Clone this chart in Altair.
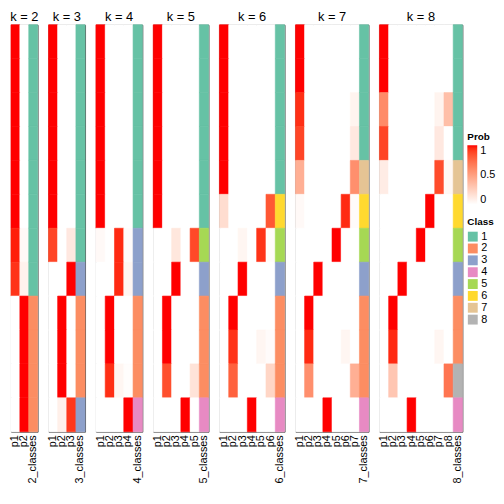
import altair as alt
import pandas as pd

row_ids = list(range(12))
k_values = [2, 3, 4, 5, 6, 7, 8]

probs_k2 = [[1, 0]] * 6 + [[0.97, 0.03], [0.93, 0.07]] + [[0, 1]] * 4
classes_k2 = [1] * 8 + [2] * 4

probs_k3 = [[1, 0, 0]] * 6 + [[0.88, 0, 0.12], [0, 0, 1]] + [[0, 1, 0]] * 3 + [[0, 0.08, 0.92]]
classes_k3 = [1] * 7 + [3, 2, 2, 2, 3]

probs_k4 = ([[1, 0, 0, 0]] * 6
            + [[0.03, 0, 0.95, 0.02], [0, 0, 0.95, 0.05], [0, 1, 0, 0], [0, 1, 0, 0],
               [0, 0.94, 0.05, 0.01], [0, 0, 0, 1]])
classes_k4 = [1] * 6 + [3, 3, 2, 2, 2, 4]

probs_k5 = ([[1, 0, 0, 0, 0]] * 6
            + [[0, 0, 0.13, 0, 0.87], [0, 0, 1, 0, 0], [0, 1, 0, 0, 0], [0, 1, 0, 0, 0],
               [0, 0.85, 0, 0, 0.15], [0, 0, 0, 1, 0]])
classes_k5 = [1] * 6 + [5, 3, 2, 2, 2, 4]

probs_k6 = ([[1, 0, 0, 0, 0, 0]] * 5
            + [[0.18, 0, 0, 0, 0, 0.82], [0, 0, 0.05, 0, 0.93, 0.02], [0, 0, 1, 0, 0, 0],
               [0, 1, 0, 0, 0, 0], [0, 0.93, 0, 0, 0.05, 0.02], [0, 0.78, 0, 0, 0, 0.22],
               [0, 0, 0, 1, 0, 0]])
classes_k6 = [1] * 5 + [6, 5, 3, 2, 2, 2, 4]

probs_k7 = [[1, 0, 0, 0, 0, 0, 0], [1, 0, 0, 0, 0, 0, 0],
            [0.94, 0, 0, 0, 0, 0, 0.06], [0.88, 0, 0, 0, 0, 0, 0.12],
            [0.42, 0, 0, 0, 0, 0, 0.58], [0.03, 0, 0, 0, 0, 0.95, 0.02],
            [0, 0, 0, 0, 1, 0, 0], [0, 0, 1, 0, 0, 0, 0], [0, 1, 0, 0, 0, 0, 0],
            [0, 0.95, 0, 0, 0, 0.05, 0], [0, 0.58, 0, 0, 0, 0, 0.42], [0, 0, 0, 1, 0, 0, 0]]
classes_k7 = [1, 1, 1, 1, 7, 6, 5, 3, 2, 2, 2, 4]

probs_k8 = [[1, 0, 0, 0, 0, 0, 0, 0], [1, 0, 0, 0, 0, 0, 0, 0],
            [0.6, 0, 0, 0, 0, 0, 0.06, 0.34], [0.88, 0, 0, 0, 0, 0, 0.12, 0],
            [0.1, 0, 0, 0, 0, 0, 0.86, 0.04], [0, 0, 0, 0, 0, 1, 0, 0],
            [0, 0, 0, 0, 1, 0, 0, 0], [0, 0, 1, 0, 0, 0, 0, 0], [0, 1, 0, 0, 0, 0, 0, 0],
            [0, 0.95, 0, 0, 0, 0, 0.05, 0], [0, 0.3, 0, 0, 0, 0, 0, 0.7],
            [0, 0, 0, 1, 0, 0, 0, 0]]
classes_k8 = [1, 1, 1, 1, 7, 6, 5, 3, 2, 2, 8, 4]

class_labels = ["1", "2", "3", "4", "5", "6", "7", "8"]
class_colors = ["#66C2A5", "#FC8D62", "#8DA0CB", "#E78AC3",
                "#A6D854", "#FFD92F", "#E5C494", "#B3B3B3"]

all_probs = [probs_k2, probs_k3, probs_k4, probs_k5, probs_k6, probs_k7, probs_k8]
all_classes = [classes_k2, classes_k3, classes_k4, classes_k5, classes_k6, classes_k7, classes_k8]
panel_widths = [27, 37, 47, 56, 66, 74, 84]

FONT = "Liberation Sans"

prob_scale = alt.Scale(domain=[0, 1], range=["white", "red"], interpolate="lab")
class_scale = alt.Scale(domain=class_labels, range=class_colors)

prob_legend = alt.Legend(title="Prob", orient="none", legendX=462, legendY=109,
                         direction="vertical", gradientLength=60, gradientThickness=10,
                         values=[0, 0.5, 1], format="~g", titleFontWeight="bold",
                         titleFontSize=10, labelFontSize=11, titleFont=FONT, labelFont=FONT,
                         titlePadding=3, labelOffset=3, padding=0)
class_legend = alt.Legend(title="Class", orient="none", legendX=462, legendY=195,
                          symbolType="square", symbolSize=100, symbolStrokeWidth=0,
                          titleFontWeight="bold", titleFontSize=10, labelFontSize=11,
                          rowPadding=0, titleFont=FONT, labelFont=FONT, titlePadding=4,
                          labelOffset=3, padding=0)

panels = []
for k, probs, classes, w in zip(k_values, all_probs, all_classes, panel_widths):
    cols = [f"p{i}" for i in range(1, k + 1)] + [f"{k}_classes"]
    prob_rows = []
    for r, vals in enumerate(probs):
        for i, v in enumerate(vals):
            prob_rows.append({"row": r, "col": f"p{i + 1}", "prob": v})
    class_rows = [{"row": r, "col": f"{k}_classes", "cls": str(c)} for r, c in enumerate(classes)]

    x = alt.X("col:N", sort=cols,
              scale=alt.Scale(domain=cols, paddingInner=0, paddingOuter=0),
              axis=alt.Axis(title=None, labelAngle=270, ticks=False, domain=False,
                            labelPadding=3, labelFontSize=11, labelFont=FONT,
                            labelColor="black", labelOverlap=False))
    y = alt.Y("row:O", scale=alt.Scale(domain=row_ids, paddingInner=0, paddingOuter=0),
              axis=None)

    lp = alt.Chart(pd.DataFrame(prob_rows)).mark_rect(strokeWidth=0.6).encode(
        x=x, y=y,
        color=alt.Color("prob:Q", scale=prob_scale, legend=prob_legend),
        stroke=alt.Stroke("prob:Q", scale=prob_scale, legend=None))
    lc = alt.Chart(pd.DataFrame(class_rows)).mark_rect(strokeWidth=0.6).encode(
        x=x, y=y,
        fill=alt.Fill("cls:N", scale=class_scale, legend=class_legend),
        stroke=alt.Stroke("cls:N", scale=class_scale, legend=None))
    panel = alt.layer(lp, lc).resolve_scale(stroke="independent").properties(
        width=w, height=412,
        title=alt.TitleParams(f"k = {k}", fontSize=13, font=FONT, fontWeight="normal",
                              anchor="middle", offset=-2, dy=-2, color="black"))
    panels.append(panel)

chart = alt.hconcat(*panels, spacing=11, bounds="flush").resolve_scale(
    x="independent", color="shared", fill="shared"
).properties(padding=0).configure_view(stroke="#555", strokeWidth=1)

chart.save("out.html", embed_options={"renderer": "svg", "actions": False})
